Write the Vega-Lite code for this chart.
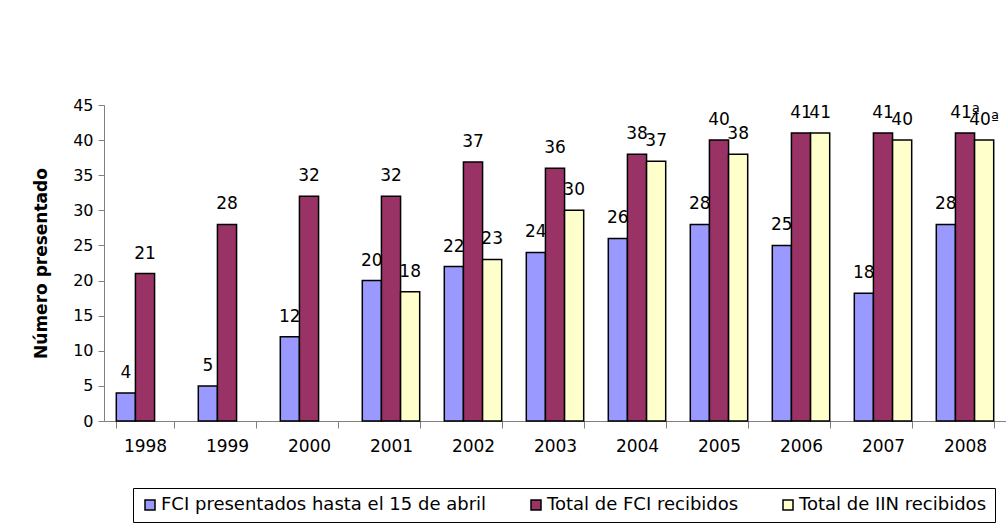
{
  "$schema": "https://vega.github.io/schema/vega-lite/v6.json",
  "autosize": {"type": "none"},
  "width": 902,
  "height": 316,
  "padding": {"left": 104, "top": 105, "right": 0, "bottom": 105},
  "background": "white",
  "config": {
    "view": {"stroke": null},
    "font": "DejaVu Sans",
    "axis": {"grid": false, "domainColor": "#808080", "tickColor": "#808080", "labelColor": "black", "labelFont": "DejaVu Sans"}
  },
  "data": {
    "values": [
      {"year": "1998", "series": "FCI presentados hasta el 15 de abril", "value": 4, "label": "4"},
      {"year": "1998", "series": "Total de FCI recibidos", "value": 21, "label": "21"},
      {"year": "1999", "series": "FCI presentados hasta el 15 de abril", "value": 5, "label": "5"},
      {"year": "1999", "series": "Total de FCI recibidos", "value": 28, "label": "28"},
      {"year": "2000", "series": "FCI presentados hasta el 15 de abril", "value": 12, "label": "12"},
      {"year": "2000", "series": "Total de FCI recibidos", "value": 32, "label": "32"},
      {"year": "2001", "series": "FCI presentados hasta el 15 de abril", "value": 20, "label": "20"},
      {"year": "2001", "series": "Total de FCI recibidos", "value": 32, "label": "32"},
      {"year": "2001", "series": "Total de IIN recibidos", "value": 18.4, "label": "18"},
      {"year": "2002", "series": "FCI presentados hasta el 15 de abril", "value": 22, "label": "22"},
      {"year": "2002", "series": "Total de FCI recibidos", "value": 36.9, "label": "37"},
      {"year": "2002", "series": "Total de IIN recibidos", "value": 23, "label": "23"},
      {"year": "2003", "series": "FCI presentados hasta el 15 de abril", "value": 24, "label": "24"},
      {"year": "2003", "series": "Total de FCI recibidos", "value": 36, "label": "36"},
      {"year": "2003", "series": "Total de IIN recibidos", "value": 30, "label": "30"},
      {"year": "2004", "series": "FCI presentados hasta el 15 de abril", "value": 26, "label": "26"},
      {"year": "2004", "series": "Total de FCI recibidos", "value": 38, "label": "38"},
      {"year": "2004", "series": "Total de IIN recibidos", "value": 37, "label": "37"},
      {"year": "2005", "series": "FCI presentados hasta el 15 de abril", "value": 28, "label": "28"},
      {"year": "2005", "series": "Total de FCI recibidos", "value": 40, "label": "40"},
      {"year": "2005", "series": "Total de IIN recibidos", "value": 38, "label": "38"},
      {"year": "2006", "series": "FCI presentados hasta el 15 de abril", "value": 25, "label": "25"},
      {"year": "2006", "series": "Total de FCI recibidos", "value": 41, "label": "41"},
      {"year": "2006", "series": "Total de IIN recibidos", "value": 41, "label": "41"},
      {"year": "2007", "series": "FCI presentados hasta el 15 de abril", "value": 18.2, "label": "18"},
      {"year": "2007", "series": "Total de FCI recibidos", "value": 41, "label": "41"},
      {"year": "2007", "series": "Total de IIN recibidos", "value": 40, "label": "40"},
      {"year": "2008", "series": "FCI presentados hasta el 15 de abril", "value": 28, "label": "28"},
      {"year": "2008", "series": "Total de FCI recibidos", "value": 41, "label": "41ª"},
      {"year": "2008", "series": "Total de IIN recibidos", "value": 40, "label": "40ª"}
    ]
  },
  "encoding": {
    "x": {
      "field": "year", "type": "nominal",
      "scale": {"paddingInner": 0.3, "paddingOuter": 0.15},
      "axis": {"title": null, "labelAngle": 0, "labelFontSize": 17, "tickBand": "extent", "tickSize": 7, "labelPadding": 10}
    },
    "xOffset": {
      "field": "series", "type": "nominal",
      "sort": ["FCI presentados hasta el 15 de abril", "Total de FCI recibidos", "Total de IIN recibidos"]
    },
    "y": {
      "field": "value", "type": "quantitative",
      "scale": {"domain": [0, 45], "nice": false},
      "axis": {"title": "Número presentado", "values": [0, 5, 10, 15, 20, 25, 30, 35, 40, 45], "labelFontSize": 16, "tickSize": 6, "labelPadding": 5, "titleFontSize": 17, "titleFontWeight": "bold", "titleFont": "DejaVu Sans", "titleColor": "black", "titlePadding": 22}
    }
  },
  "layer": [
    {
      "mark": {"type": "bar", "stroke": "black", "strokeWidth": 1.5},
      "encoding": {
        "fill": {
          "field": "series", "type": "nominal",
          "sort": ["FCI presentados hasta el 15 de abril", "Total de FCI recibidos", "Total de IIN recibidos"],
          "scale": {"domain": ["FCI presentados hasta el 15 de abril", "Total de FCI recibidos", "Total de IIN recibidos"], "range": ["#9999FF", "#993366", "#FFFFCC"]},
          "legend": {
            "title": null, "orient": "none", "direction": "horizontal", "legendX": 29, "legendY": 383,
            "strokeColor": "black", "fillColor": "white", "padding": 8,
            "symbolType": "square", "symbolSize": 100, "symbolStrokeColor": "black", "symbolStrokeWidth": 1.5,
            "labelFontSize": 18, "labelFont": "DejaVu Sans", "labelColor": "black", "labelOffset": 2, "columnPadding": 40, "labelLimit": 500
          }
        }
      }
    },
    {
      "mark": {"type": "text", "baseline": "alphabetic", "dy": -15, "fontSize": 17, "font": "DejaVu Sans", "color": "black"},
      "encoding": {"text": {"field": "label"}}
    }
  ]
}
